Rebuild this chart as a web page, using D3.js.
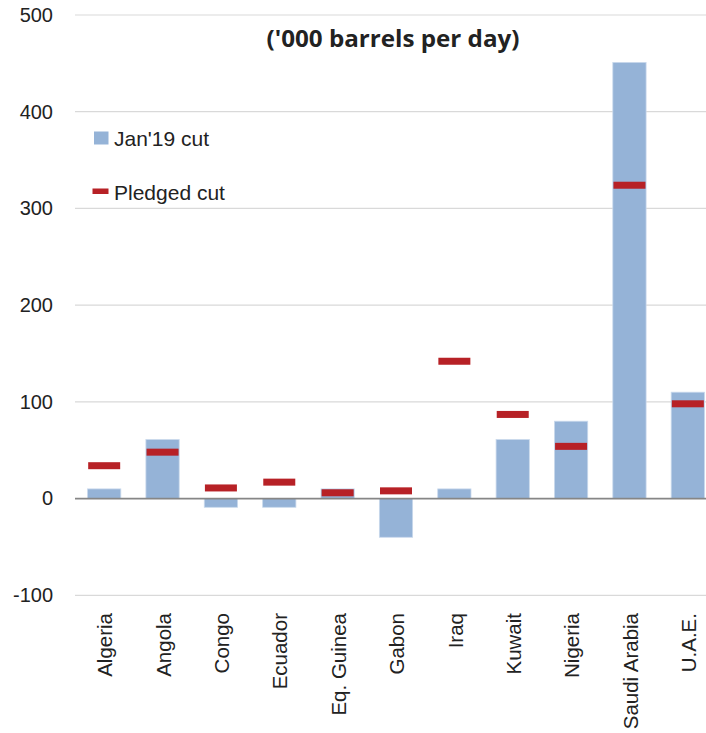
<!DOCTYPE html>
<html>
<head>
<meta charset="utf-8">
<script src="https://cdn.jsdelivr.net/npm/d3@7"></script>
<style>
  html, body { margin: 0; padding: 0; background: #fff; }
  svg { display: block; }
  text { font-family: "Liberation Sans", Arial, sans-serif; fill: #222; }
</style>
</head>
<body>
<svg id="chart" width="706" height="733"></svg>
<script>
// OPEC+ production cuts by country, thousand barrels per day
const countries = ["Algeria", "Angola", "Congo", "Ecuador", "Eq. Guinea", "Gabon",
                   "Iraq", "Kuwait", "Nigeria", "Saudi Arabia", "U.A.E."];
const janCut     = [10, 61, -9, -9, 10, -40, 10, 61, 80, 451, 110];
const pledgedCut = [34, 48, 11, 17, 6, 8, 142, 87, 54, 324, 98];
const yTicks     = [-100, 0, 100, 200, 300, 400, 500];

const W = 706, H = 733;
const svg = d3.select("#chart");

// Plot area extends past the right edge, so the last category is cut off
const x = d3.scaleBand()
  .domain(countries)
  .range([75, 717])
  .paddingInner(0.43)
  .paddingOuter(0.215);

const y = d3.scaleLinear()
  .domain([-100, 500])
  .range([595.3, 15]);

// Horizontal gridlines
svg.append("g")
  .selectAll("line")
  .data(yTicks.filter(d => d !== 0))
  .join("line")
  .attr("x1", 75).attr("x2", W)
  .attr("y1", d => y(d)).attr("y2", d => y(d))
  .attr("stroke", "#d9d9d9")
  .attr("stroke-width", 1.2);

// Y axis labels (plain hyphen for negatives)
const yAxis = svg.append("g")
  .attr("transform", "translate(75,0)")
  .call(d3.axisLeft(y).tickValues(yTicks).tickFormat(d => String(d)).tickSize(0).tickPadding(22));
yAxis.select(".domain").remove();
yAxis.selectAll("text")
  .style("font-family", "'Liberation Sans', Arial, sans-serif")
  .style("font-size", "20px")
  .attr("fill", "#222");

// Jan'19 bars
svg.append("g")
  .selectAll("rect")
  .data(countries)
  .join("rect")
  .attr("x", d => x(d))
  .attr("width", x.bandwidth())
  .attr("y", (d, i) => y(Math.max(0, janCut[i])))
  .attr("height", (d, i) => Math.abs(y(janCut[i]) - y(0)))
  .attr("fill", "#95b3d7")
  .attr("stroke", "#c9d9ec")
  .attr("stroke-width", 0.8);

// Zero baseline
svg.append("line")
  .attr("x1", 75).attr("x2", W)
  .attr("y1", y(0)).attr("y2", y(0))
  .attr("stroke", "#868686")
  .attr("stroke-width", 1.6);

// Pledged cut markers
const markW = 32;
svg.append("g")
  .selectAll("rect")
  .data(countries)
  .join("rect")
  .attr("x", d => x(d) + x.bandwidth() / 2 - markW / 2)
  .attr("width", markW)
  .attr("y", (d, i) => y(pledgedCut[i]) - 3.5)
  .attr("height", 7)
  .attr("fill", "#b72126");

// Category labels, rotated
svg.append("g")
  .selectAll("text")
  .data(countries)
  .join("text")
  .attr("transform", d => `translate(${x(d) + x.bandwidth() / 2 + 1},613) rotate(-90)`)
  .attr("text-anchor", "end")
  .attr("dy", "0.35em")
  .style("font-size", "20.5px")
  .text(d => d);

// Title
svg.append("text")
  .attr("x", 393)
  .attr("y", 47)
  .attr("text-anchor", "middle")
  .style("font-family", "'Open Sans', sans-serif")
  .style("font-weight", "bold")
  .style("font-size", "24px")
  .attr("textLength", 253)
  .attr("lengthAdjust", "spacingAndGlyphs")
  .text("('000 barrels per day)");

// Legend
const legend = svg.append("g");
legend.append("rect")
  .attr("x", 94).attr("y", 131.5)
  .attr("width", 14.5).attr("height", 13)
  .attr("fill", "#95b3d7");
legend.append("text")
  .attr("x", 114).attr("y", 145.5)
  .style("font-size", "21px")
  .text("Jan'19 cut");
legend.append("rect")
  .attr("x", 92.5).attr("y", 188.5)
  .attr("width", 16).attr("height", 5.5)
  .attr("fill", "#b72126");
legend.append("text")
  .attr("x", 114).attr("y", 200)
  .style("font-size", "21px")
  .text("Pledged cut");
</script>
</body>
</html>
